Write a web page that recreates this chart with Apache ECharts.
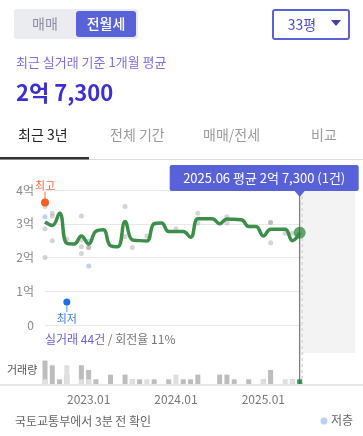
<!DOCTYPE html>
<html><head><meta charset="utf-8">
<script src="https://cdn.jsdelivr.net/npm/echarts@6/dist/echarts.min.js"></script>
<style>html,body{margin:0;padding:0;background:#fff;}#c{width:363px;height:436px;}</style>
</head><body><div id="c"></div>
<script>
// ---- data ----
const months = ['2022.07','2022.08','2022.09','2022.10','2022.11','2022.12',
  '2023.01','2023.02','2023.03','2023.04','2023.05','2023.06','2023.07','2023.08','2023.09','2023.10','2023.11','2023.12',
  '2024.01','2024.02','2024.03','2024.04','2024.05','2024.06','2024.07','2024.08','2024.09','2024.10','2024.11','2024.12',
  '2025.01','2025.02','2025.03','2025.04','2025.05','2025.06'];
// monthly average (만원)
const avgPrice = [30500,29500,33100,24200,24000,26400,24000,27800,28200,23500,23200,30700,
  25200,25000,24900,30000,30200,27700,27700,27700,26000,31500,31500,31500,
  30000,31400,31300,31200,29200,29200,26400,28400,28400,28400,25000,27300];
// individual deals (만원)
const tradeMonth = ['2022.07','2022.07','2022.07','2022.08','2022.08','2022.08','2022.10','2022.12','2022.12','2022.12','2022.12',
  '2023.01','2023.01','2023.06','2023.06','2023.07','2023.09','2024.01','2024.04','2024.04','2024.08','2024.08',
  '2025.02','2025.02','2025.02','2025.04','2025.05'];
const tradePrice = [35100,28500,20000,33100,32300,25000,25500,32300,25200,23200,21200,
  23000,23000,35100,26200,23000,26400,28500,33100,30200,32100,30200,
  30400,30400,24400,27200,27200];
const lowFloorMonth = ['2022.07','2023.01','2023.01'];
const lowFloorPrice = [32100,24900,17500];
const highest = { month: '2022.07', price: 36300, label: '최고' };
const lowest = { month: '2022.10', price: 6800, label: '최저' };
// volume
const dealCount = [5,4,1,2,0,4,3,1,0,2,0,2,1,1,0,1,0,1,0,1,1,2,0,0,2,2,1,0,1,0,1,3,0,0,1,1];
const otherCount = [1,0,0,4,0,1,1,0,0,0,0,0,1,0,1,0,0,0,2,0,0,0,0,0,0,0,0,0,0,0,1,0,0,1,1,0];
const yTickLabels = ['0','1억','2억','3억','4억'];
const xTickLabels = ['2023.01','2024.01','2025.01'];
const turnover = '11%';

// ---- helpers ----
const mi = m => months.indexOf(m);
const last = months.length - 1;
const fmt = v => { const e = Math.floor(v/10000), r = v%10000; return (e? e+'억 ':'') + (r? r.toLocaleString('en-US'):''); };
const FONT = '"Noto Sans CJK KR", "Noto Sans", sans-serif';
const XMAX = 42.6;
const totalDeals = dealCount.reduce((a,b)=>a+b,0);

const chart = echarts.init(document.getElementById('c'), null, {renderer:'canvas'});

const option = {
  animation: false,
  textStyle: { fontFamily: FONT },
  grid: [
    { left: 45, top: 190, width: 310, height: 135 },
    { left: 45, top: 354, width: 310, height: 30 }
  ],
  xAxis: [
    { type:'value', gridIndex:0, min:0, max:XMAX, axisLine:{show:false}, axisTick:{show:false}, axisLabel:{show:false}, splitLine:{show:false} },
    { type:'value', gridIndex:1, min:0, max:XMAX, axisLine:{show:false}, axisTick:{show:false}, splitLine:{show:false},
      axisLabel:{ customValues: xTickLabels.map(mi), formatter: v => months[Math.round(v)], color:'#777', fontSize:12, margin:9, fontFamily:FONT } }
  ],
  yAxis: [
    { type:'value', gridIndex:0, min:0, max:40000, interval:10000,
      axisLabel:{ formatter: v => yTickLabels[Math.round(v/10000)], color:'#888', fontSize:12, margin:11, fontFamily:FONT },
      axisLine:{show:false}, axisTick:{show:false}, splitLine:{ lineStyle:{ color:'#e8e8e8' } } },
    { type:'value', gridIndex:1, min:0, max:6.4, show:false, splitLine:{show:false} }
  ],
  series: [
    { // shaded future area + dashed edge
      type:'custom', xAxisIndex:0, yAxisIndex:0, z:0, silent:true, clip:false,
      data:[[last, avgPrice[last]]],
      renderItem:(params, api) => {
        const x0 = api.coord([last, 0])[0], x1 = api.coord([XMAX, 0])[0];
        return { type:'group', children:[
          { type:'rect', shape:{ x:x0+1, y:191, width:x1-x0-1, height:162 }, style:{ fill:'#f3f3f3' } },
          { type:'line', shape:{ x1:x0+2.5, y1:196, x2:x0+2.5, y2:384 }, style:{ stroke:'#d6d6d6', lineWidth:1.5, lineDash:[3,3] } }
        ]};
      }
    },
    { type:'scatter', xAxisIndex:0, yAxisIndex:0, z:2, symbolSize:5,
      data: tradeMonth.map((m,i)=>[mi(m), tradePrice[i]]),
      itemStyle:{ color:'rgba(160,160,160,0.55)' } },
    { type:'scatter', xAxisIndex:0, yAxisIndex:0, z:2, symbolSize:5,
      data: lowFloorMonth.map((m,i)=>[mi(m), lowFloorPrice[i]]),
      itemStyle:{ color:'#a9c7f1' } },
    { type:'line', xAxisIndex:0, yAxisIndex:0, z:3, smooth:0.45, symbol:'none',
      data: avgPrice.map((v,i)=>[i,v]),
      lineStyle:{ color:'#3b8f48', width:3.5 } },
    { type:'scatter', xAxisIndex:0, yAxisIndex:0, z:4, symbolSize:12,
      data: [[last, avgPrice[last]]], itemStyle:{ color:'#3b8f48' } },
    { // high / low markers
      type:'custom', xAxisIndex:0, yAxisIndex:0, z:5, clip:false, silent:true,
      data: [[mi(highest.month), highest.price, 0], [mi(lowest.month), lowest.price, 1]],
      renderItem:(params, api) => {
        const p = api.coord([api.value(0), api.value(1)]);
        const isLow = api.value(2) === 1;
        if (!isLow) {
          return { type:'group', children:[
            { type:'line', shape:{ x1:p[0], y1:p[1]-3, x2:p[0], y2:p[1]-11 }, style:{ stroke:'#ffa27f', lineWidth:1.5 } },
            { type:'circle', shape:{ cx:p[0], cy:p[1], r:4 }, style:{ fill:'#ff5a26' } },
            { type:'text', x:p[0], y:p[1]-17, style:{ text:highest.label, fill:'#ff6a3a', font:'11px '+FONT, align:'center', verticalAlign:'middle' } }
          ]};
        }
        return { type:'group', children:[
          { type:'line', shape:{ x1:p[0], y1:p[1]+3, x2:p[0], y2:p[1]+10 }, style:{ stroke:'#8fb7f2', lineWidth:1.5 } },
          { type:'circle', shape:{ cx:p[0], cy:p[1], r:3.5 }, style:{ fill:'#1f6fe6' } },
          { type:'text', x:p[0], y:p[1]+17, style:{ text:lowest.label, fill:'#3c7be0', font:'11px '+FONT, align:'center', verticalAlign:'middle' } }
        ]};
      }
    },
    { type:'bar', xAxisIndex:1, yAxisIndex:1, stack:'v', barWidth:5, z:2,
      data: dealCount.map((c,i)=> i===last ? { value:[i,c], itemStyle:{ color:'#3d9b4e' } } : [i,c]),
      itemStyle:{ color:'#bdbdbd' } },
    { type:'bar', xAxisIndex:1, yAxisIndex:1, stack:'v', barWidth:5, z:2,
      data: otherCount.map((c,i)=>[i,c]),
      itemStyle:{ color:'#dfdfdf' } },
    { // tooltip at latest month
      type:'custom', xAxisIndex:0, yAxisIndex:0, z:10, clip:false, silent:true,
      data:[[last, avgPrice[last]]],
      renderItem:(params, api) => {
        const x = api.coord([last, 0])[0];
        const bx = x - 130, bw = 189;
        return { type:'group', children:[
          { type:'line', shape:{ x1:x, y1:194, x2:x, y2:384 }, style:{ stroke:'#5a5a5a', lineWidth:1 } },
          { type:'rect', shape:{ x:bx, y:165, width:bw, height:26, r:2 }, style:{ fill:'#5961d8' } },
          { type:'polygon', shape:{ points:[[x-5,191],[x+5,191],[x,197]] }, style:{ fill:'#5961d8' } },
          { type:'text', x:bx+bw/2, y:178.5, style:{ text: months[last]+' 평균 '+fmt(avgPrice[last])+' ('+dealCount[last]+'건)', fill:'#fff', font:'13px '+FONT, align:'center', verticalAlign:'middle' } }
        ]};
      }
    }
  ],
  graphic: [
    { type:'rect', shape:{ x:14, y:9, width:124, height:30, r:3 }, style:{ fill:'#ebecef' } },
    { type:'rect', shape:{ x:76, y:11, width:60, height:26, r:3 }, style:{ fill:'#5a62d8' } },
    { type:'text', x:45, y:24, style:{ text:'매매', fill:'#8d8ca6', font:'14px '+FONT, align:'center', verticalAlign:'middle' } },
    { type:'text', x:106, y:24, style:{ text:'전월세', fill:'#fff', font:'500 14px '+FONT, align:'center', verticalAlign:'middle' } },
    { type:'rect', shape:{ x:273, y:10, width:76, height:29, r:2 }, style:{ fill:'#fff', stroke:'#5a62d8', lineWidth:2 } },
    { type:'text', x:302, y:25, style:{ text:'33평', fill:'#4a4fc6', font:'14px '+FONT, align:'center', verticalAlign:'middle' } },
    { type:'polygon', shape:{ points:[[331,20],[341,20],[336,26]] }, style:{ fill:'#3d40b8' } },
    { type:'text', x:16, y:62, style:{ text:'최근 실거래 기준 1개월 평균', fill:'#7d6fe0', font:'13px '+FONT, align:'left', verticalAlign:'middle' } },
    { type:'text', x:16, y:93, style:{ text:fmt(avgPrice[last]), fill:'#3b30d4', font:'bold 22px '+FONT, align:'left', verticalAlign:'middle' } },
    { type:'text', x:18, y:135, style:{ text:'최근 3년', fill:'#222', font:'14px '+FONT, align:'left', verticalAlign:'middle' } },
    { type:'text', x:110, y:135, style:{ text:'전체 기간', fill:'#9b9b9b', font:'14px '+FONT, align:'left', verticalAlign:'middle' } },
    { type:'text', x:203, y:135, style:{ text:'매매/전세', fill:'#9b9b9b', font:'14px '+FONT, align:'left', verticalAlign:'middle' } },
    { type:'text', x:311, y:135, style:{ text:'비교', fill:'#9b9b9b', font:'14px '+FONT, align:'left', verticalAlign:'middle' } },
    { type:'rect', shape:{ x:0, y:159, width:363, height:1 }, style:{ fill:'#dddddd' } },
    { type:'rect', shape:{ x:0, y:157, width:89, height:2.5 }, style:{ fill:'#333' } },
    { type:'text', x:45, y:339, style:{ text:'{a|실거래 '+totalDeals+'건}{b| / 회전율 '+turnover+'}', font:'12px '+FONT, align:'left', verticalAlign:'middle',
        rich:{ a:{ fill:'#6e5fdc', font:'12px '+FONT }, b:{ fill:'#777', font:'12px '+FONT } } } },
    { type:'text', x:7, y:370, style:{ text:'거래량', fill:'#555', font:'11px '+FONT, align:'left', verticalAlign:'middle' } },
    { type:'rect', shape:{ x:0, y:384, width:363, height:2 }, style:{ fill:'#e6e6e6' } },
    { type:'text', x:15, y:421, style:{ text:'국토교통부에서 3분 전 확인', fill:'#666', font:'12px '+FONT, align:'left', verticalAlign:'middle' } },
    { type:'circle', shape:{ cx:324, cy:421, r:3.5 }, style:{ fill:'#b9d1f2' } },
    { type:'text', x:331, y:420, style:{ text:'저층', fill:'#666', font:'12px '+FONT, align:'left', verticalAlign:'middle' } }
  ]
};
chart.setOption(option);
</script>
</body></html>
